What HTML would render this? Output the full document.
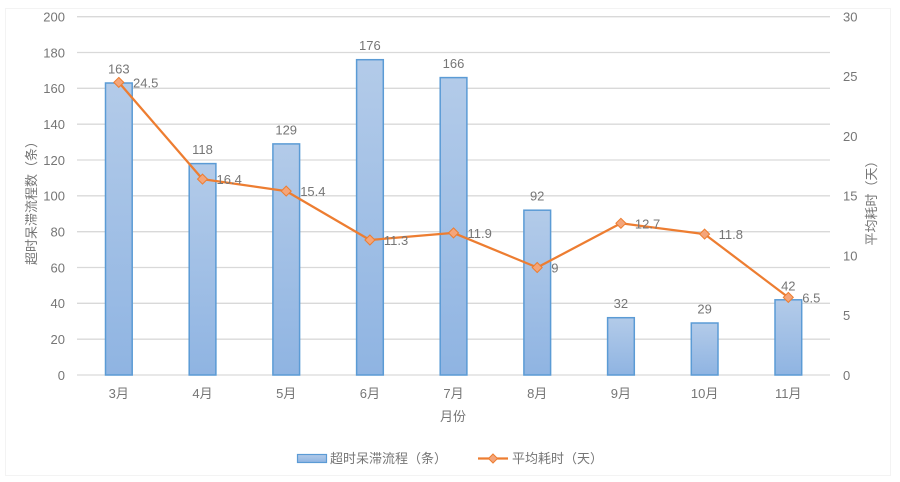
<!DOCTYPE html>
<html>
<head>
<meta charset="utf-8">
<style>
html,body{margin:0;padding:0;background:#fff;}
svg{display:block;}
text{font-family:"Liberation Sans","Noto Sans CJK SC",sans-serif;fill:#767676;font-size:13px;}
</style>
</head>
<body>
<svg width="900" height="482" viewBox="0 0 900 482" xmlns="http://www.w3.org/2000/svg">
<defs>
<linearGradient id="bg" x1="0" y1="0" x2="0" y2="1">
<stop offset="0" stop-color="#b3cbe9"/>
<stop offset="1" stop-color="#8fb4e2"/>
</linearGradient>
<linearGradient id="lg" x1="0" y1="0" x2="0" y2="1">
<stop offset="0" stop-color="#b3cbe9"/>
<stop offset="1" stop-color="#8fb4e2"/>
</linearGradient>
</defs>
<rect x="5.5" y="8.5" width="885" height="467" fill="#fff" stroke="#f3f3f3" stroke-width="1"/>
<!-- gridlines -->
<g stroke="#d9d9d9" stroke-width="1.3">
<line x1="77" x2="830" y1="16.7" y2="16.7"/>
<line x1="77" x2="830" y1="52.5" y2="52.5"/>
<line x1="77" x2="830" y1="88.3" y2="88.3"/>
<line x1="77" x2="830" y1="124.2" y2="124.2"/>
<line x1="77" x2="830" y1="160" y2="160"/>
<line x1="77" x2="830" y1="195.8" y2="195.8"/>
<line x1="77" x2="830" y1="231.7" y2="231.7"/>
<line x1="77" x2="830" y1="267.5" y2="267.5"/>
<line x1="77" x2="830" y1="303.3" y2="303.3"/>
<line x1="77" x2="830" y1="339.2" y2="339.2"/>
<line x1="77" x2="830" y1="375" y2="375"/>
</g>
<!-- left ticks -->
<g text-anchor="end">
<text x="65" y="21.5">200</text>
<text x="65" y="57.3">180</text>
<text x="65" y="93.1">160</text>
<text x="65" y="129">140</text>
<text x="65" y="164.8">120</text>
<text x="65" y="200.6">100</text>
<text x="65" y="236.5">80</text>
<text x="65" y="272.3">60</text>
<text x="65" y="308.1">40</text>
<text x="65" y="344">20</text>
<text x="65" y="379.8">0</text>
</g>
<!-- right ticks -->
<g text-anchor="start">
<text x="843" y="21.5">30</text>
<text x="843" y="81.2">25</text>
<text x="843" y="140.9">20</text>
<text x="843" y="200.6">15</text>
<text x="843" y="260.4">10</text>
<text x="843" y="320.1">5</text>
<text x="843" y="379.8">0</text>
</g>
<!-- axis titles -->
<text transform="translate(36,200) rotate(-90)" text-anchor="middle">超时呆滞流程数（条）</text>
<text transform="translate(876,200) rotate(-90)" text-anchor="middle">平均耗时（天）</text>
<text x="453" y="421" text-anchor="middle">月份</text>
<!-- bars -->
<g fill="url(#bg)" stroke="#5b9bd5" stroke-width="1.5">
<rect x="105.5" y="83" width="26.7" height="292"/>
<rect x="189.2" y="163.6" width="26.7" height="211.4"/>
<rect x="272.9" y="143.9" width="26.7" height="231.1"/>
<rect x="356.6" y="59.7" width="26.7" height="315.3"/>
<rect x="440.2" y="77.6" width="26.7" height="297.4"/>
<rect x="523.9" y="210.2" width="26.7" height="164.8"/>
<rect x="607.6" y="317.7" width="26.7" height="57.3"/>
<rect x="691.3" y="323" width="26.7" height="52"/>
<rect x="775" y="299.8" width="26.7" height="75.2"/>
</g>
<!-- bar labels -->
<g text-anchor="middle">
<text x="118.8" y="73.5">163</text>
<text x="202.5" y="154">118</text>
<text x="286.2" y="134.4">129</text>
<text x="369.9" y="50.2">176</text>
<text x="453.5" y="68.1">166</text>
<text x="537.2" y="200.7">92</text>
<text x="620.9" y="308.2">32</text>
<text x="704.6" y="313.5">29</text>
<text x="788.3" y="290.3">42</text>
</g>
<!-- category labels -->
<g text-anchor="middle">
<text x="118.8" y="398">3月</text>
<text x="202.5" y="398">4月</text>
<text x="286.2" y="398">5月</text>
<text x="369.9" y="398">6月</text>
<text x="453.5" y="398">7月</text>
<text x="537.2" y="398">8月</text>
<text x="620.9" y="398">9月</text>
<text x="704.6" y="398">10月</text>
<text x="788.3" y="398">11月</text>
</g>
<!-- line -->
<polyline fill="none" stroke="#ed7d31" stroke-width="2.25" stroke-linejoin="round"
points="118.8,82.4 202.5,179.1 286.2,191.1 369.9,240 453.5,232.9 537.2,267.5 620.9,223.3 704.6,234.1 788.3,297.4"/>
<g fill="#f4a57a" stroke="#ed7d31" stroke-width="1">
<path d="M118.8,77.4 l5,5 l-5,5 l-5,-5z"/>
<path d="M202.5,174.1 l5,5 l-5,5 l-5,-5z"/>
<path d="M286.2,186.1 l5,5 l-5,5 l-5,-5z"/>
<path d="M369.9,235 l5,5 l-5,5 l-5,-5z"/>
<path d="M453.5,227.9 l5,5 l-5,5 l-5,-5z"/>
<path d="M537.2,262.5 l5,5 l-5,5 l-5,-5z"/>
<path d="M620.9,218.3 l5,5 l-5,5 l-5,-5z"/>
<path d="M704.6,229.1 l5,5 l-5,5 l-5,-5z"/>
<path d="M788.3,292.4 l5,5 l-5,5 l-5,-5z"/>
</g>
<!-- line labels -->
<g text-anchor="start">
<text x="133" y="87.4">24.5</text>
<text x="216.5" y="184.1">16.4</text>
<text x="300.2" y="196.1">15.4</text>
<text x="383.9" y="245">11.3</text>
<text x="467.5" y="237.9">11.9</text>
<text x="551.2" y="272.5">9</text>
<text x="634.9" y="228.3">12.7</text>
<text x="718.6" y="239.1">11.8</text>
<text x="802.3" y="302.4">6.5</text>
</g>
<!-- legend -->
<rect x="297.5" y="454.5" width="29" height="8" fill="url(#lg)" stroke="#5b9bd5" stroke-width="1.2"/>
<text x="330" y="463">超时呆滞流程（条）</text>
<line x1="478" x2="508" y1="458.5" y2="458.5" stroke="#ed7d31" stroke-width="2.25"/>
<path d="M493,454 l4.5,4.5 l-4.5,4.5 l-4.5,-4.5z" fill="#f4a57a" stroke="#ed7d31" stroke-width="1"/>
<text x="512" y="463">平均耗时（天）</text>
</svg>
</body>
</html>
